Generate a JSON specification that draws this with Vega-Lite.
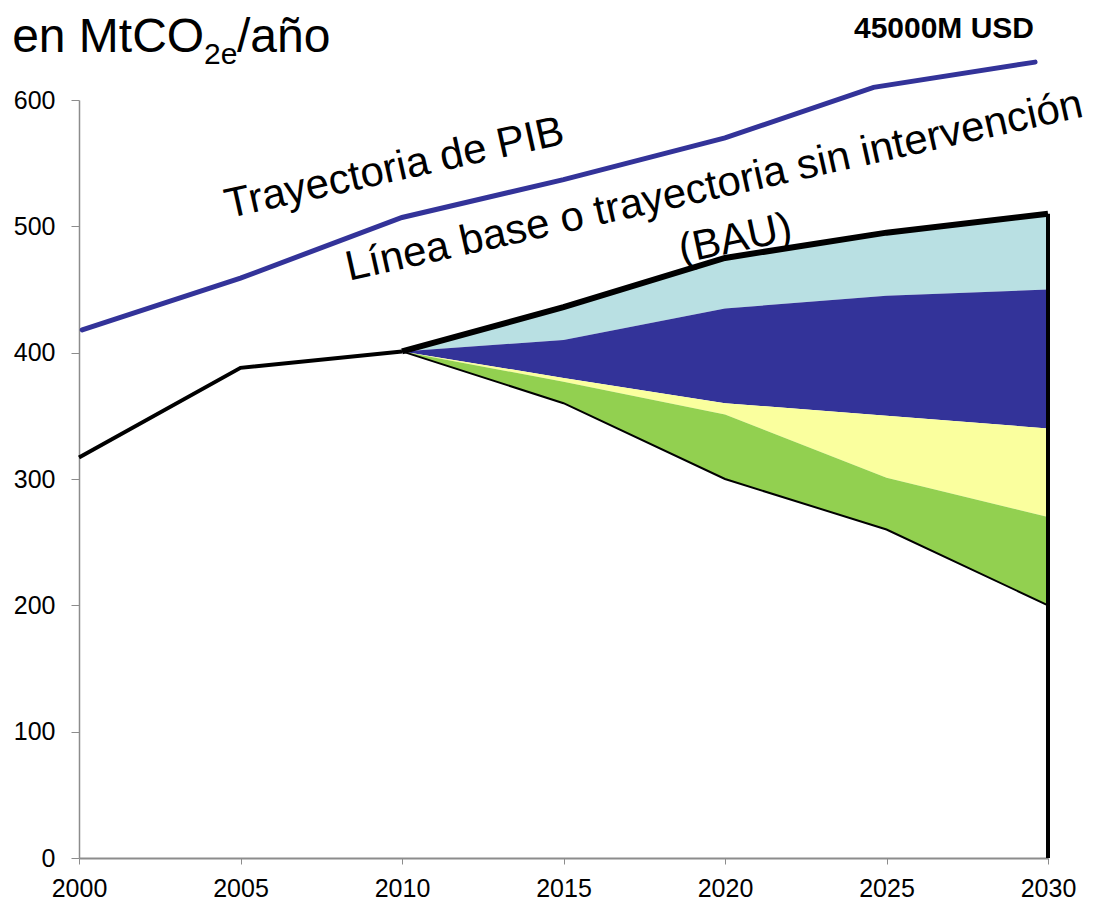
{
  "$schema": "https://vega.github.io/schema/vega-lite/v6.json",
  "autosize": {"type": "none"},
  "padding": {"left": 79, "top": 100, "right": 51, "bottom": 44},
  "width": 969,
  "height": 758,
  "background": "white",
  "config": {
    "view": {"stroke": null},
    "font": "Liberation Sans",
    "axis": {"grid": false, "domainColor": "#8c8c8c", "tickColor": "#8c8c8c", "labelColor": "black", "labelFont": "Liberation Sans", "labelFontSize": 25, "labelFlush": false, "title": null}
  },
  "datasets": {
    "bands": [
      {"year": 2010, "band": "b1", "lo": 401, "hi": 401},
      {"year": 2015, "band": "b1", "lo": 410, "hi": 436},
      {"year": 2020, "band": "b1", "lo": 435, "hi": 475},
      {"year": 2025, "band": "b1", "lo": 445, "hi": 495},
      {"year": 2030, "band": "b1", "lo": 450, "hi": 508},
      {"year": 2010, "band": "b2", "lo": 401, "hi": 401},
      {"year": 2015, "band": "b2", "lo": 380, "hi": 410},
      {"year": 2020, "band": "b2", "lo": 360, "hi": 435},
      {"year": 2025, "band": "b2", "lo": 350, "hi": 445},
      {"year": 2030, "band": "b2", "lo": 340, "hi": 450},
      {"year": 2010, "band": "b3", "lo": 401, "hi": 401},
      {"year": 2015, "band": "b3", "lo": 377, "hi": 380},
      {"year": 2020, "band": "b3", "lo": 351, "hi": 360},
      {"year": 2025, "band": "b3", "lo": 301, "hi": 350},
      {"year": 2030, "band": "b3", "lo": 270, "hi": 340},
      {"year": 2010, "band": "b4", "lo": 401, "hi": 401},
      {"year": 2015, "band": "b4", "lo": 360, "hi": 377},
      {"year": 2020, "band": "b4", "lo": 300, "hi": 351},
      {"year": 2025, "band": "b4", "lo": 260, "hi": 301},
      {"year": 2030, "band": "b4", "lo": 200, "hi": 270}
    ],
    "lines": [
      {"series": "hist", "year": 2000, "value": 317},
      {"series": "hist", "year": 2005, "value": 388},
      {"series": "hist", "year": 2010, "value": 401},
      {"series": "bau", "year": 2010, "value": 401},
      {"series": "bau", "year": 2015, "value": 436},
      {"series": "bau", "year": 2020, "value": 475},
      {"series": "bau", "year": 2025, "value": 495},
      {"series": "bau", "year": 2030, "value": 510},
      {"series": "low", "year": 2010, "value": 401},
      {"series": "low", "year": 2015, "value": 360},
      {"series": "low", "year": 2020, "value": 300},
      {"series": "low", "year": 2025, "value": 260},
      {"series": "low", "year": 2030, "value": 200},
      {"series": "pib", "year": 2000.1, "value": 418},
      {"series": "pib", "year": 2005, "value": 459},
      {"series": "pib", "year": 2010, "value": 507},
      {"series": "pib", "year": 2015, "value": 537},
      {"series": "pib", "year": 2020, "value": 570},
      {"series": "pib", "year": 2024.6, "value": 610},
      {"series": "pib", "year": 2029.6, "value": 630}
    ],
    "rule": [{"year": 2030, "lo": 0, "hi": 510}],
    "labels": [
      {"text": "Trayectoria de PIB", "year": 2009.85, "value": 536, "angle": -12.5, "size": 42},
      {"text": "Línea base o trayectoria sin intervención", "year": 2019.75, "value": 522, "angle": -12.6, "size": 42},
      {"text": "(BAU)", "year": 2020.4, "value": 480, "angle": -12, "size": 42}
    ],
    "heading": [
      {"text": "en MtCO", "year": 1997.93, "value": 638, "size": 48},
      {"text": "2e", "year": 2003.87, "value": 628.5, "size": 30},
      {"text": "/año", "year": 2004.89, "value": 638, "size": 48}
    ],
    "bold": [
      {"text": "45000M USD", "year": 2026.78, "value": 649}
    ]
  },
  "layer": [
    {
      "data": {"name": "bands"},
      "mark": {"type": "area", "opacity": 1},
      "encoding": {
        "x": {"field": "year", "type": "quantitative", "scale": {"domain": [2000, 2030], "nice": false, "zero": false},
          "axis": {"values": [2000, 2005, 2010, 2015, 2020, 2025, 2030], "format": "d", "domainWidth": 2, "tickSize": 6, "labelPadding": 12}},
        "y": {"field": "lo", "type": "quantitative", "scale": {"domain": [0, 600], "nice": false},
          "axis": {"values": [0, 100, 200, 300, 400, 500, 600], "domainWidth": 1.5, "tickSize": 8, "labelPadding": 16}},
        "y2": {"field": "hi"},
        "color": {"field": "band", "type": "nominal", "legend": null,
          "scale": {"domain": ["b1", "b2", "b3", "b4"], "range": ["#B9E0E3", "#333399", "#FAFF9E", "#92D050"]}}
      }
    },
    {
      "data": {"name": "lines"},
      "transform": [{"filter": "datum.series === 'low'"}],
      "mark": {"type": "line", "color": "black", "strokeWidth": 2},
      "encoding": {"x": {"field": "year", "type": "quantitative"}, "y": {"field": "value", "type": "quantitative"}}
    },
    {
      "data": {"name": "lines"},
      "transform": [{"filter": "datum.series === 'hist'"}],
      "mark": {"type": "line", "color": "black", "strokeWidth": 4},
      "encoding": {"x": {"field": "year", "type": "quantitative"}, "y": {"field": "value", "type": "quantitative"}}
    },
    {
      "data": {"name": "lines"},
      "transform": [{"filter": "datum.series === 'bau'"}],
      "mark": {"type": "line", "color": "black", "strokeWidth": 6},
      "encoding": {"x": {"field": "year", "type": "quantitative"}, "y": {"field": "value", "type": "quantitative"}}
    },
    {
      "data": {"name": "lines"},
      "transform": [{"filter": "datum.series === 'pib'"}],
      "mark": {"type": "line", "color": "#333399", "strokeWidth": 5, "strokeCap": "round"},
      "encoding": {"x": {"field": "year", "type": "quantitative"}, "y": {"field": "value", "type": "quantitative"}}
    },
    {
      "data": {"name": "rule"},
      "mark": {"type": "rule", "color": "black", "strokeWidth": 4},
      "encoding": {"x": {"field": "year", "type": "quantitative"}, "y": {"field": "lo", "type": "quantitative"}, "y2": {"field": "hi"}}
    },
    {
      "data": {"name": "labels"},
      "mark": {"type": "text", "align": "center", "baseline": "alphabetic", "font": "Liberation Sans", "color": "black"},
      "encoding": {
        "x": {"field": "year", "type": "quantitative"},
        "y": {"field": "value", "type": "quantitative"},
        "text": {"field": "text"},
        "angle": {"field": "angle", "type": "quantitative", "scale": null},
        "size": {"field": "size", "type": "quantitative", "scale": null}
      }
    },
    {
      "data": {"name": "heading"},
      "mark": {"type": "text", "align": "left", "baseline": "alphabetic", "font": "Liberation Sans", "color": "black"},
      "encoding": {
        "x": {"field": "year", "type": "quantitative"},
        "y": {"field": "value", "type": "quantitative"},
        "text": {"field": "text"},
        "size": {"field": "size", "type": "quantitative", "scale": null}
      }
    },
    {
      "data": {"name": "bold"},
      "mark": {"type": "text", "align": "center", "baseline": "alphabetic", "font": "Liberation Sans", "fontWeight": "bold", "fontSize": 30, "color": "black"},
      "encoding": {
        "x": {"field": "year", "type": "quantitative"},
        "y": {"field": "value", "type": "quantitative"},
        "text": {"field": "text"}
      }
    }
  ]
}
